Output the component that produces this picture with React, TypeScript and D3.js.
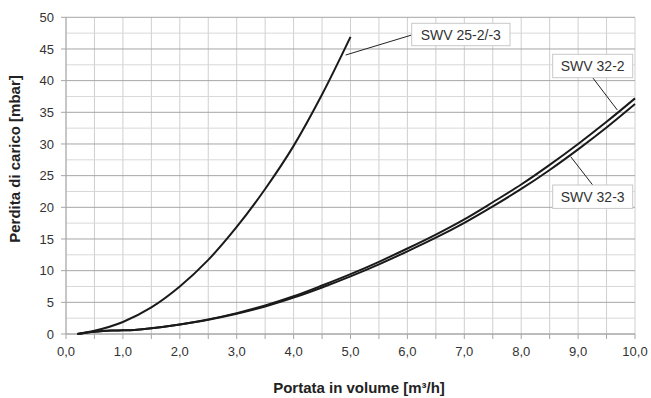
import React from "react";
import * as d3 from "d3";

const xTicks = [0, 1, 2, 3, 4, 5, 6, 7, 8, 9, 10];
const yTicks = [0, 5, 10, 15, 20, 25, 30, 35, 40, 45, 50];

const swv25x = [0.2, 0.5, 1.0, 1.5, 2.0, 2.5, 3.0, 3.5, 4.0, 4.5, 5.0];
const swv25y = [0, 0.5, 1.9, 4.2, 7.5, 11.7, 16.9, 22.9, 29.7, 37.8, 46.9];

const swv322x = [0.2, 0.5, 0.8, 1.0, 1.2, 1.5, 2.0, 2.5, 3.0, 3.5, 4.0, 4.5, 5.0, 5.5, 6.0, 6.5, 7.0, 7.5, 8.0, 8.5, 9.0, 9.5, 10.0];
const swv322y = [0, 0.35, 0.55, 0.58, 0.65, 0.9, 1.5, 2.3, 3.3, 4.5, 5.95, 7.65, 9.45, 11.4, 13.5, 15.7, 18.1, 20.8, 23.6, 26.7, 30.0, 33.5, 37.2];

const swv323x = [0.2, 0.5, 0.8, 1.0, 1.2, 1.5, 2.0, 2.5, 3.0, 3.5, 4.0, 4.5, 5.0, 5.5, 6.0, 6.5, 7.0, 7.5, 8.0, 8.5, 9.0, 9.5, 10.0];
const swv323y = [0, 0.35, 0.55, 0.58, 0.65, 0.9, 1.5, 2.25, 3.2, 4.35, 5.75, 7.35, 9.1, 11.0, 13.05, 15.2, 17.55, 20.15, 22.9, 25.9, 29.15, 32.6, 36.3];

const labels = ["SWV 25-2/-3", "SWV 32-2", "SWV 32-3"];

export default function App() {
  const W = 651, H = 398;
  const left = 66, right = 635, top = 17.3, bottom = 334;
  const x = d3.scaleLinear().domain([0, 10]).range([left, right]);
  const y = d3.scaleLinear().domain([0, 50]).range([bottom, top]);
  const line = d3.line<[number, number]>().x(d => x(d[0])).y(d => y(d[1])).curve(d3.curveCatmullRom.alpha(0.5));
  const zip = (a: number[], b: number[]) => a.map((v, i) => [v, b[i]] as [number, number]);

  const minorX = d3.range(0, 10.01, 0.5);
  const minorY = d3.range(0, 50.01, 2.5);
  const font = "Arial, 'Liberation Sans', sans-serif";

  return (
    <svg width={W} height={H} style={{ position: "absolute", left: 0, top: 0, background: "#fff" }}>
      {minorX.map(v => (
        <line key={"vx" + v} x1={x(v)} x2={x(v)} y1={top} y2={bottom} stroke="#cfcfcf" strokeWidth={1} />
      ))}
      {minorY.filter(v => v % 5 !== 0).map(v => (
        <line key={"hy" + v} x1={left} x2={right} y1={y(v)} y2={y(v)} stroke="#d8d8d8" strokeWidth={1} />
      ))}
      {yTicks.map(v => (
        <line key={"my" + v} x1={left - 5} x2={right} y1={y(v)} y2={y(v)} stroke="#a6a6a6" strokeWidth={1} />
      ))}
      <line x1={left} x2={left} y1={top} y2={bottom} stroke="#a6a6a6" />
      <line x1={left} x2={right} y1={bottom} y2={bottom} stroke="#a6a6a6" />
      {minorX.map(v => (
        <line key={"tx" + v} x1={x(v)} x2={x(v)} y1={bottom} y2={bottom + 5} stroke="#a6a6a6" />
      ))}
      {yTicks.map(v => (
        <text key={"yl" + v} x={54} y={y(v) + 4.7} textAnchor="end" fontSize={13} fontFamily={font} fill="#333">{v}</text>
      ))}
      {xTicks.map(v => (
        <text key={"xl" + v} x={x(v)} y={356} textAnchor="middle" fontSize={13} fontFamily={font} fill="#333">{v.toFixed(1).replace(".", ",")}</text>
      ))}
      <text x={359} y={393} textAnchor="middle" fontSize={15} fontWeight="bold" fontFamily={font} fill="#222">
        Portata in volume [m³/h]
      </text>
      <text transform={`translate(20,159) rotate(-90)`} textAnchor="middle" fontSize={15} fontWeight="bold" fontFamily={font} fill="#222">
        Perdita di carico [mbar]
      </text>
      <path d={line(zip(swv25x, swv25y)) || ""} fill="none" stroke="#1a1a1a" strokeWidth={2} />
      <path d={line(zip(swv322x, swv322y)) || ""} fill="none" stroke="#1a1a1a" strokeWidth={2} />
      <path d={line(zip(swv323x, swv323y)) || ""} fill="none" stroke="#1a1a1a" strokeWidth={2} />
      <line x1={345.7} y1={55} x2={411.7} y2={35} stroke="#222" strokeWidth={1} />
      <line x1={592.7} y1={77.7} x2={617.3} y2={110} stroke="#222" strokeWidth={1} />
      <line x1={592.7} y1={185} x2={570.7} y2={156.7} stroke="#222" strokeWidth={1} />
      <rect x={411.7} y={23.3} width={98.3} height={22.4} fill="#fff" stroke="#c8c8c8" />
      <text x={460.8} y={39.5} textAnchor="middle" fontSize={14} fontFamily={font} fill="#333">{labels[0]}</text>
      <rect x={552.7} y={54.3} width={80} height={23.4} fill="#fff" stroke="#c8c8c8" />
      <text x={592.7} y={71} textAnchor="middle" fontSize={14} fontFamily={font} fill="#333">{labels[1]}</text>
      <rect x={552.7} y={185} width={80} height={23.4} fill="#fff" stroke="#c8c8c8" />
      <text x={592.7} y={201.7} textAnchor="middle" fontSize={14} fontFamily={font} fill="#333">{labels[2]}</text>
    </svg>
  );
}
